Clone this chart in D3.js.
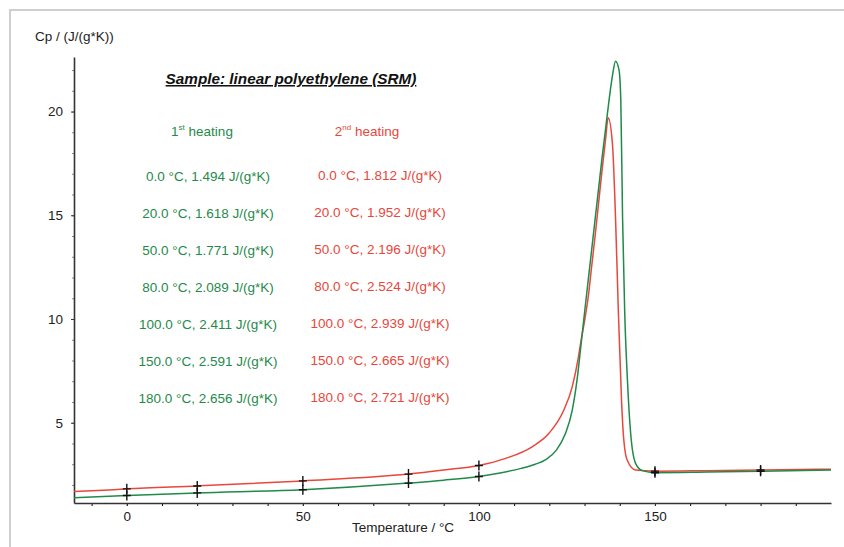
<!DOCTYPE html>
<head>
    <meta charset="utf-8">
    <title>Cp of linear polyethylene</title>
    <script src="https://d3js.org/d3.v7.min.js"></script>
    <style>
    body { margin: 0; background: #fff; }
    text { font-family: Arial, "Liberation Sans", sans-serif; }
    </style>
</head>
<body>
<script>
// 1st heating curve (green)
var heat1T = [-15, 0, 20, 50, 80, 90, 100, 106, 112, 116, 119, 122, 124.6, 126.5, 127.9, 128.9, 130, 131, 132, 133, 134, 135, 136, 137, 138, 138.8, 139.8, 140.3, 140.8, 141.4, 142.2, 143.1, 144.5, 146.4, 150, 165, 180, 200];
var heat1Cp = [1.38, 1.494, 1.618, 1.771, 2.089, 2.23, 2.411, 2.58, 2.8, 3.0, 3.22, 3.68, 4.49, 5.6, 7.1, 8.6, 10.3, 11.8, 13.3, 14.8, 16.3, 17.8, 19.2, 20.6, 21.8, 22.43, 22.0, 20.55, 14.9, 10.4, 7.0, 4.49, 3.04, 2.69, 2.591, 2.62, 2.656, 2.72];
// 2nd heating curve (red)
var heat2T = [-15, -5, 0, 20, 50, 80, 90, 100, 107.6, 115.1, 119.9, 124.1, 126.5, 128.2, 129, 130, 131, 132, 133, 134, 135, 136, 136.7, 137.9, 138.8, 139.6, 140.5, 141, 142.1, 144.5, 150, 165, 180, 200];
var heat2Cp = [1.68, 1.76, 1.812, 1.952, 2.196, 2.524, 2.72, 2.939, 3.28, 3.84, 4.49, 5.6, 6.73, 8.1, 8.95, 9.9, 11.0, 12.5, 14.0, 15.6, 17.2, 18.7, 19.7, 18.5, 14.9, 10.4, 6.1, 4.49, 3.2, 2.72, 2.665, 2.69, 2.721, 2.76];
// evaluated points
var markT = [0, 20, 50, 80, 100, 150, 180];
var mark1Cp = [1.494, 1.618, 1.771, 2.089, 2.411, 2.591, 2.656];
var mark2Cp = [1.812, 1.952, 2.196, 2.524, 2.939, 2.665, 2.721];
var xTicks = [0, 50, 100, 150];
var yTicks = [5, 10, 15, 20];

var green = "#1f8a4a", red = "#e8473b";

var width = 844, height = 547;
var svg = d3.select("body").append("svg")
    .attr("width", width)
    .attr("height", height);

// outer frame
svg.append("rect")
    .attr("x", 10).attr("y", 10)
    .attr("width", 900).attr("height", 600)
    .attr("fill", "none")
    .attr("stroke", "#cfcfcf")
    .attr("stroke-width", 2);

var x = d3.scaleLinear().domain([-15, 200]).range([74, 831]);
var y = d3.scaleLinear().domain([1.13, 22.63]).range([503, 57]);

// minor ticks
svg.append("g")
    .attr("transform", "translate(0,503)")
    .call(d3.axisBottom(x).tickValues(d3.range(-10, 200, 10)).tickSize(3).tickFormat("").tickSizeOuter(0))
    .call(g => g.select(".domain").remove());
svg.append("g")
    .attr("transform", "translate(74,0)")
    .call(d3.axisLeft(y).tickValues(d3.range(2, 23, 1)).tickSize(2).tickFormat("").tickSizeOuter(0))
    .call(g => g.select(".domain").remove())
    .selectAll("line").attr("stroke", "#888");

var xAxis = svg.append("g")
    .attr("transform", "translate(0,503)")
    .call(d3.axisBottom(x).tickValues(xTicks).tickSize(3).tickPadding(5).tickSizeOuter(0));
var yAxis = svg.append("g")
    .attr("transform", "translate(74,0)")
    .call(d3.axisLeft(y).tickValues(yTicks).tickSize(3).tickPadding(8).tickSizeOuter(0));

[xAxis, yAxis].forEach(function(a) {
    a.selectAll("text").attr("font-size", 13.5).attr("font-family", "Arial, 'Liberation Sans', sans-serif").attr("fill", "#222");
    a.select(".domain").attr("stroke", "#333").attr("stroke-width", 1.6);
    a.selectAll(".tick line").attr("stroke", "#333");
});

svg.append("text")
    .attr("x", 35).attr("y", 41)
    .attr("font-size", 13.5).attr("fill", "#222")
    .text("Cp / (J/(g*K))");

svg.append("text")
    .attr("x", 403).attr("y", 532)
    .attr("text-anchor", "middle")
    .attr("font-size", 13.5).attr("fill", "#222")
    .text("Temperature / °C");

// curves
var line = d3.line()
    .x(function(d) { return x(d[0]); })
    .y(function(d) { return y(d[1]); })
    .curve(d3.curveMonotoneX);

svg.append("path")
    .datum(d3.zip(heat2T, heat2Cp))
    .attr("d", line)
    .attr("fill", "none")
    .attr("stroke", red)
    .attr("stroke-width", 1.5);

svg.append("path")
    .datum(d3.zip(heat1T, heat1Cp))
    .attr("d", line)
    .attr("fill", "none")
    .attr("stroke", green)
    .attr("stroke-width", 1.5);

// crosses at evaluated points
var crosses = d3.zip(markT, mark1Cp).concat(d3.zip(markT, mark2Cp));
svg.append("g")
    .selectAll("path")
    .data(crosses)
    .enter().append("path")
    .attr("d", function(d) {
        var px = x(d[0]), py = y(d[1]);
        return "M" + (px - 4) + "," + py + "h8M" + px + "," + (py - 5) + "v10";
    })
    .attr("stroke", "#111")
    .attr("stroke-width", 1.4);

// title
svg.append("text")
    .attr("x", 291).attr("y", 84)
    .attr("text-anchor", "middle")
    .attr("font-size", 15.3)
    .attr("font-weight", "bold")
    .attr("font-style", "italic")
    .attr("text-decoration", "underline")
    .attr("fill", "#111")
    .text("Sample: linear polyethylene (SRM)");

// column headers
function header(cx, num, sup, color) {
    var t = svg.append("text")
        .attr("x", cx).attr("y", 136)
        .attr("text-anchor", "middle")
        .attr("font-size", 13.5)
        .attr("fill", color);
    t.append("tspan").text(num);
    t.append("tspan").attr("font-size", 8).attr("dy", -6).text(sup);
    t.append("tspan").attr("dy", 6).text(" heating");
}
header(202, "1", "st", green);
header(367, "2", "nd", red);

var rowY = d3.scalePoint().domain(markT).range([181, 403]);
var fmt = function(t, v) { return t.toFixed(1) + " °C, " + v.toFixed(3) + " J/(g*K)"; };

svg.append("g")
    .selectAll("text")
    .data(d3.zip(markT, mark1Cp))
    .enter().append("text")
    .attr("x", 208)
    .attr("y", function(d) { return rowY(d[0]); })
    .attr("text-anchor", "middle")
    .attr("font-size", 13.5)
    .attr("fill", green)
    .text(function(d) { return fmt(d[0], d[1]); });

svg.append("g")
    .selectAll("text")
    .data(d3.zip(markT, mark2Cp))
    .enter().append("text")
    .attr("x", 380)
    .attr("y", function(d) { return rowY(d[0]) - 1; })
    .attr("text-anchor", "middle")
    .attr("font-size", 13.5)
    .attr("fill", red)
    .text(function(d) { return fmt(d[0], d[1]); });
</script>
</body>
